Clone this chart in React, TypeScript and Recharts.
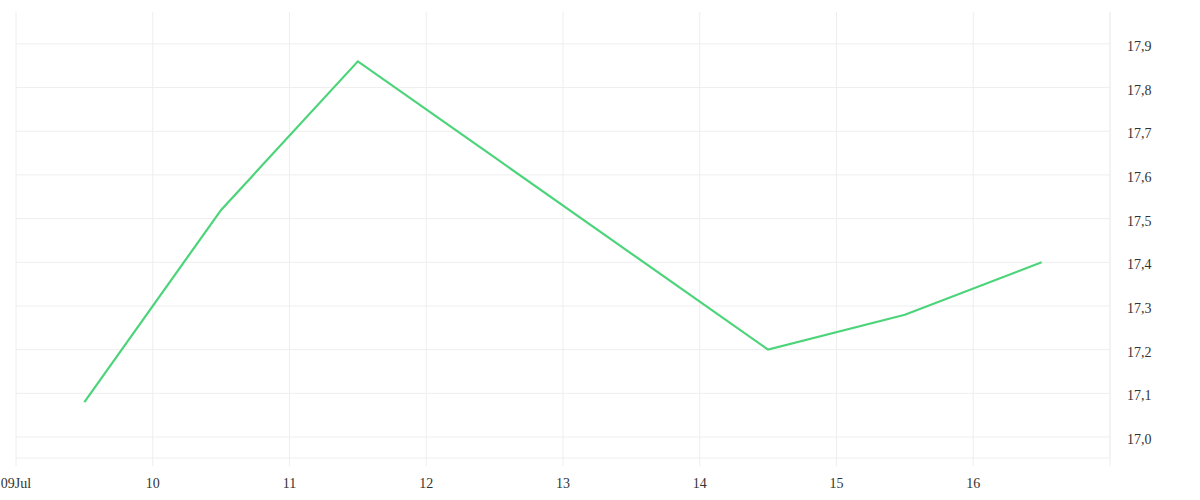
import React from 'react';
import { LineChart, Line, XAxis, YAxis, CartesianGrid } from 'recharts';

const dayPositions = [0.5, 1.5, 2.5, 3.5, 4.5, 5.5, 6.5, 7.5];
const values = [17.08, 17.52, 17.86, 17.64, 17.42, 17.2, 17.28, 17.4];
const xTicks = [0, 1, 2, 3, 4, 5, 6, 7, 8];
const xTickLabels = ['09Jul', '10', '11', '12', '13', '14', '15', '16', ''];
const yTicks = [17.0, 17.1, 17.2, 17.3, 17.4, 17.5, 17.6, 17.7, 17.8, 17.9];

const data = dayPositions.map((x, i) => ({ x, v: values[i] }));

const GRID = '#eeeeee';
const FONT = '"Liberation Serif", "Times New Roman", serif';

const YTick = (props: any) => {
  const { x, y, payload } = props;
  return (
    <text x={x} y={y} dy={7} textAnchor="start" fill="#333" fontSize={14} fontFamily={FONT}>
      {payload.value.toFixed(1).replace('.', ',')}
    </text>
  );
};

export default function App() {
  return (
    <div style={{ position: 'absolute', left: 0, top: 0, width: 1200, height: 500 }}>
      <LineChart width={1200} height={500} data={data} margin={{ top: 12, right: 0, bottom: 0, left: 16 }}>
        <CartesianGrid
          stroke={GRID}
          vertical={true}
          horizontal={true}
          horizontalValues={yTicks}
          verticalValues={xTicks}
        />
        <XAxis
          dataKey="x"
          type="number"
          domain={[0, 8]}
          ticks={xTicks}
          tickFormatter={(v: number) => xTickLabels[v] ?? ''}
          height={42}
          tickSize={8}
          tickMargin={12}
          stroke={GRID}
          tick={{ fill: '#333', fontSize: 14, fontFamily: FONT }}
          interval={0}
          allowDataOverflow
        />
        <YAxis
          orientation="right"
          type="number"
          domain={[16.952, 17.973]}
          ticks={yTicks}
          width={90}
          tickLine={false}
          tickSize={0}
          tickMargin={17}
          stroke={GRID}
          tick={<YTick />}
          interval={0}
          allowDataOverflow
        />
        <Line
          type="linear"
          dataKey="v"
          stroke="#4cd47a"
          strokeWidth={2.2}
          dot={false}
          isAnimationActive={false}
        />
      </LineChart>
    </div>
  );
}
